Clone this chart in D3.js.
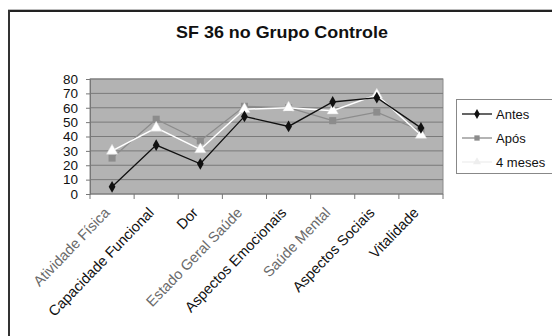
<!DOCTYPE html>
<html><head><meta charset="utf-8">
<script src="https://cdn.jsdelivr.net/npm/d3@7"></script>
<style>body{margin:0;background:#fff}svg{display:block;font-family:"Liberation Sans",Arial,sans-serif}</style>
</head><body>
<svg id="c" width="552" height="336"></svg>
<script>
const categories = ["Atividade Física","Capacidade Funcional","Dor","Estado Geral Saúde","Aspectos Emocionais","Saúde Mental","Aspectos Sociais","Vitalidade"];
const antes = [5, 34, 21, 54, 47, 64, 67, 46];
const apos = [25, 52, 37, 61, 60, 51, 57, 44];
const quatroMeses = [30, 46, 31, 59, 60, 58, 69, 41];
const seriesNames = ["Antes","Após","4 meses"];
const yTicks = [0,10,20,30,40,50,60,70,80];
const title = "SF 36 no Grupo Controle";

const svg = d3.select("#c");
const L = 90, R = 443, T = 79, B = 194;

// outer frame
svg.append("line").attr("x1",8).attr("x2",560).attr("y1",9.5).attr("y2",9.5).attr("stroke","#bbb").attr("stroke-width",1);
svg.append("line").attr("x1",8).attr("x2",560).attr("y1",11).attr("y2",11).attr("stroke","#222").attr("stroke-width",2);
svg.append("line").attr("x1",9).attr("x2",9).attr("y1",10).attr("y2",340).attr("stroke","#333").attr("stroke-width",2);

svg.append("text").attr("transform","translate(282,38) scale(1.12,1)").attr("text-anchor","middle")
  .attr("font-size",16).attr("font-weight","bold").attr("fill","#111").text(title);

const x = d3.scaleBand().domain(categories).range([L,R]);
const y = d3.scaleLinear().domain([0,80]).range([B,T]);

svg.append("rect").attr("x",L).attr("y",T).attr("width",R-L).attr("height",B-T)
  .attr("fill","#b3b3b3").attr("stroke","#8a8a8a");

svg.append("g").selectAll("line").data(yTicks.slice(1)).join("line")
  .attr("x1",L).attr("x2",R).attr("y1",d=>y(d)).attr("y2",d=>y(d))
  .attr("stroke","#7a7a7a").attr("stroke-width",1);

const yAxis = svg.append("g").attr("transform",`translate(${L},0)`)
  .call(d3.axisLeft(y).tickValues(yTicks).tickSize(4).tickPadding(8));
yAxis.select(".domain").attr("stroke","#777");
yAxis.selectAll(".tick line").attr("stroke","#777");
yAxis.selectAll("text").attr("font-size",13.5).attr("fill","#111").attr("font-family","Liberation Sans, Arial, sans-serif");

// x ticks at band boundaries
const bounds = categories.map(c=>x(c)).concat([R]);
svg.append("line").attr("x1",L).attr("x2",R).attr("y1",B).attr("y2",B).attr("stroke","#777");
svg.append("g").selectAll("line").data(bounds).join("line")
  .attr("x1",d=>d).attr("x2",d=>d).attr("y1",B).attr("y2",B+5).attr("stroke","#777");

const light = new Set([0,3,5]);
svg.append("g").selectAll("text").data(categories).join("text")
  .attr("transform",(d,i)=>`translate(${x(d)+x.bandwidth()/2-5},${B+16}) rotate(-46)`)
  .attr("text-anchor","end").attr("dy","0.35em")
  .attr("font-size",14.5)
  .attr("fill",(d,i)=>light.has(i)?"#6a6a6a":"#111")
  .text(d=>d);

const cx = c => x(c)+x.bandwidth()/2;
const line = d3.line().x((d,i)=>cx(categories[i])).y(d=>y(d));

const series = [
  {name:seriesNames[0], data:antes, color:"#111", marker:"diamond", mfill:"#111", w:1.3},
  {name:seriesNames[1], data:apos, color:"#8c8c8c", marker:"square", mfill:"#8c8c8c", w:1.3},
  {name:seriesNames[2], data:quatroMeses, color:"#fff", marker:"triangle", mfill:"#fff", w:1.5}
];
const sym = {diamond:d3.symbol().type(d3.symbolDiamond).size(40),
             square:d3.symbol().type(d3.symbolSquare).size(50),
             triangle:d3.symbol().type(d3.symbolTriangle).size(55)};

[series[1], series[2], series[0]].forEach(s=>{
  svg.append("path").datum(s.data).attr("d",line).attr("fill","none").attr("stroke",s.color).attr("stroke-width",s.w);
  svg.append("g").selectAll("path").data(s.data).join("path")
    .attr("transform",(d,i)=>`translate(${cx(categories[i])},${y(d)})`)
    .attr("d",sym[s.marker]).attr("fill",s.mfill)
    .attr("stroke",s.marker==="triangle"?"#ddd":"none").attr("stroke-width",0.5);
});

// legend
const lg = svg.append("g");
lg.append("rect").attr("x",456.5).attr("y",99.5).attr("width",110).attr("height",74)
  .attr("fill","#fff").attr("stroke","#888");
series.forEach((s,i)=>{
  const yy = 114 + i*24;
  lg.append("line").attr("x1",462).attr("x2",492).attr("y1",yy).attr("y2",yy)
    .attr("stroke",s.name==="4 meses"?"#eee":s.color).attr("stroke-width",1.3);
  lg.append("path").attr("transform",`translate(477,${yy})`).attr("d",d3.symbol().type(s.marker==="diamond"?d3.symbolDiamond:s.marker==="square"?d3.symbolSquare:d3.symbolTriangle).size(28))
    .attr("fill",s.name==="4 meses"?"#eee":s.mfill);
  lg.append("text").attr("x",496).attr("y",yy).attr("dy","0.35em").attr("font-size",13).attr("fill","#111").text(s.name);
});
</script>
</body></html>
